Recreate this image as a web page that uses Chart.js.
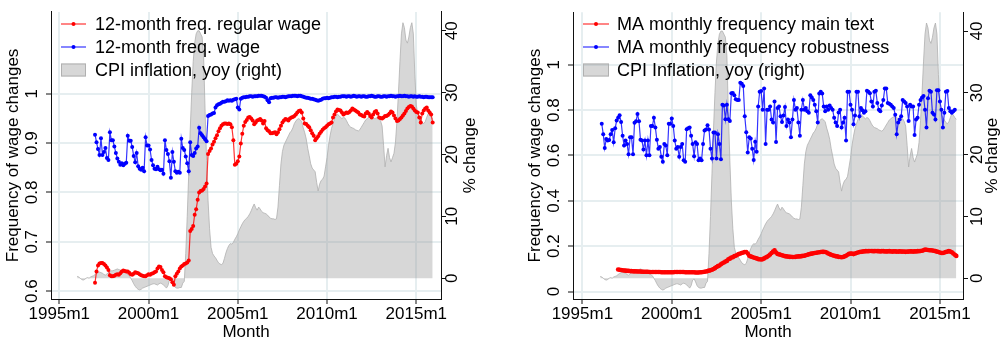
<!DOCTYPE html>
<html>
<head>
<meta charset="utf-8">
<script src="https://cdn.jsdelivr.net/npm/chart.js@4"></script>
<style>
  body { margin: 0; background: #fff; }
  canvas { position: absolute; top: 0; }
  #left-chart { left: 0; }
  #right-chart { left: 500px; }
</style>
</head>
<body>
<canvas id="left-chart" width="500" height="345"></canvas>
<canvas id="right-chart" width="502" height="345"></canvas>
<script>
// tick labels and legend texts
const xTickLabels = ['1995m1', '2000m1', '2005m1', '2010m1', '2015m1'];
const leftFreqTicks = [0.6, 0.7, 0.8, 0.9, 1];
const rightFreqTicks = [0, 0.2, 0.4, 0.6, 0.8, 1];
const cpiTicks = [0, 10, 20, 30, 40];
const leftLabels = ['12-month freq. regular wage', '12-month freq. wage', 'CPI inflation, yoy (right)'];
const rightLabels = ['MA monthly frequency main text', 'MA monthly frequency robustness', 'CPI Inflation, yoy (right)'];

// CPI inflation, yoy, % (monthly from 1996m1)
const cpiStart = '1996m1';
const cpiInflation = [
  0.3, 0.2, 0.0, -0.2, -0.3, -0.2, 0.0, 0.1, 0.0, 0.2, 0.3, 0.4,
  0.6, 0.8, 0.9, 1.0, 0.9, 0.8, 0.6, 0.5, 0.7, 0.9, 1.1, 1.2,
  1.2, 1.3, 1.4, 1.5, 1.4, 1.3, 1.2, 1.2, 1.0, 0.8, 0.6, 0.4,
  0.0, -0.4, -0.9, -1.3, -1.6, -1.8, -1.9, -1.8, -1.6, -1.5, -1.4, -1.3,
  -1.2, -1.1, -1.0, -0.9, -0.9, -1.0, -1.1, -0.9, -0.8, -0.9, -1.1, -1.3,
  -1.6, -1.2, -0.3, -0.1, -0.6, -1.2, -1.5, -1.6, -1.6, -1.5, -1.5, -0.8,
  -0.5, 4.0, 10.0, 17.0, 24.0, 30.0, 35.0, 38.0, 39.5, 40.0, 40.0, 39.5,
  39.0, 36.0, 27.0, 19.0, 12.5, 8.0, 5.0, 4.0, 3.6, 3.3, 2.9, 2.5,
  2.3, 2.2, 2.4, 3.2, 4.1, 4.8, 5.3, 5.6, 5.5, 5.8, 6.3, 6.7,
  7.2, 7.8, 8.3, 8.8, 9.2, 9.5, 9.7, 10.0, 10.4, 10.9, 11.5, 12.0,
  11.4, 11.0, 11.5, 11.2, 10.8, 10.6, 10.5, 10.4, 10.2, 9.9, 9.7, 9.6,
  9.6, 9.5, 9.6, 11.5, 15.0, 18.5, 20.5, 21.5, 22.0, 22.5, 23.0, 23.5,
  23.8, 24.3, 25.0, 25.4, 25.7, 25.8, 25.6, 25.3, 24.3, 23.5, 22.5, 21.0,
  19.8, 18.5, 17.8, 17.5, 17.2, 15.5, 14.1, 15.2, 15.8, 16.0, 16.5, 18.0,
  19.5, 21.5, 23.0, 24.2, 25.0, 25.7, 26.2, 26.5, 26.3, 26.0, 25.8, 26.0,
  25.9, 25.5, 25.0, 24.6, 24.4, 24.3, 24.2, 24.0, 23.9, 23.8, 24.0, 24.4,
  24.8, 25.2, 25.6, 25.8, 26.0, 26.1, 26.2, 26.0, 25.8, 25.9, 26.0, 25.8,
  25.4, 24.6, 21.5, 18.0, 19.8, 21.0, 19.5, 18.8, 19.5, 20.2, 22.0, 25.5,
  30.0, 35.0, 39.5, 41.3, 40.5, 38.5, 38.0, 39.0, 40.5, 41.3, 39.5, 33.0,
  28.0, 26.5, 26.0, 25.6, 25.2, 25.0, 25.3, 26.0, 26.6, 26.4, 26.0, 25.7
];

// 12-month frequency, regular wage (from 1997m1)
const regularWageStart = '1997m1';
const regularWage12m = [
  0.617, 0.640, 0.652, 0.656, 0.657, 0.657, 0.655, 0.652, 0.648, 0.643, 0.632, 0.630,
  0.630, 0.631, 0.633, 0.634, 0.633, 0.636, 0.640, 0.642, 0.641, 0.640, 0.640, 0.637,
  0.634, 0.633, 0.635, 0.638, 0.637, 0.636, 0.634, 0.632, 0.631, 0.630, 0.630, 0.632,
  0.634, 0.633, 0.635, 0.636, 0.638, 0.640, 0.646, 0.650, 0.649, 0.643, 0.638, 0.630,
  0.628, 0.627, 0.626, 0.624, 0.618, 0.613, 0.630, 0.635, 0.640, 0.646, 0.650, 0.652,
  0.655, 0.656, 0.658, 0.662, 0.722, 0.726, 0.732, 0.755, 0.766, 0.785, 0.800, 0.803,
  0.804, 0.807, 0.812, 0.818, 0.878, 0.884, 0.889, 0.897, 0.903, 0.910, 0.916, 0.924,
  0.930, 0.935, 0.938, 0.940, 0.940, 0.939, 0.940, 0.938, 0.932, 0.906, 0.856, 0.858,
  0.863, 0.873, 0.899, 0.919, 0.935, 0.943, 0.947, 0.952, 0.953, 0.950, 0.946, 0.938,
  0.942, 0.946, 0.947, 0.949, 0.946, 0.940, 0.945, 0.930, 0.926, 0.924, 0.920, 0.920,
  0.921, 0.922, 0.918, 0.922, 0.928, 0.935, 0.942, 0.946, 0.949, 0.948, 0.946, 0.950,
  0.952, 0.953, 0.955, 0.958, 0.962, 0.965, 0.966, 0.962, 0.950, 0.940, 0.939, 0.935,
  0.932, 0.926, 0.920, 0.915, 0.906, 0.910, 0.914, 0.919, 0.923, 0.927, 0.930, 0.932,
  0.935, 0.938, 0.940, 0.942, 0.952, 0.958, 0.964, 0.968, 0.967, 0.966, 0.962, 0.958,
  0.960, 0.962, 0.961, 0.963, 0.966, 0.970, 0.968, 0.966, 0.964, 0.962, 0.958, 0.957,
  0.955, 0.954, 0.960, 0.963, 0.960, 0.955, 0.952, 0.958, 0.963, 0.965, 0.960, 0.952,
  0.951, 0.950, 0.952, 0.955, 0.955, 0.957, 0.960, 0.964, 0.962, 0.956, 0.950, 0.945,
  0.946, 0.949, 0.952, 0.956, 0.960, 0.965, 0.970, 0.973, 0.975, 0.974, 0.970, 0.966,
  0.963, 0.962, 0.952, 0.942, 0.960, 0.966, 0.970, 0.972, 0.966, 0.962, 0.958, 0.942
];

// 12-month frequency, wage (from 1997m1)
const wageStart = '1997m1';
const wage12m = [
  0.917, 0.902, 0.888, 0.876, 0.910, 0.876, 0.882, 0.890, 0.870, 0.866, 0.922, 0.906,
  0.906, 0.893, 0.880, 0.869, 0.862, 0.856, 0.859, 0.855, 0.858, 0.860, 0.915, 0.905,
  0.905, 0.892, 0.874, 0.861, 0.880, 0.853, 0.848, 0.846, 0.850, 0.843, 0.912, 0.895,
  0.895, 0.887, 0.866, 0.855, 0.848, 0.847, 0.852, 0.847, 0.845, 0.846, 0.838, 0.906,
  0.886, 0.878, 0.863, 0.830, 0.882, 0.862, 0.843, 0.840, 0.842, 0.840, 0.909, 0.890,
  0.886, 0.873, 0.859, 0.843, 0.902, 0.876, 0.874, 0.880, 0.889, 0.893, 0.931, 0.920,
  0.916, 0.912, 0.908, 0.904, 0.955, 0.957, 0.958, 0.960, 0.961, 0.972, 0.977, 0.979,
  0.980, 0.982, 0.984, 0.984, 0.985, 0.987, 0.986, 0.987, 0.986, 0.988, 0.989, 0.990,
  0.972, 0.968, 0.990, 0.992, 0.993, 0.993, 0.994, 0.994, 0.995, 0.995, 0.994, 0.995,
  0.995, 0.995, 0.996, 0.996, 0.996, 0.995, 0.994, 0.992, 0.987, 0.983, 0.991, 0.992,
  0.992, 0.993, 0.993, 0.992, 0.993, 0.993, 0.994, 0.994, 0.993, 0.994, 0.995, 0.995,
  0.995, 0.996, 0.996, 0.996, 0.995, 0.996, 0.996, 0.995, 0.994, 0.993, 0.992, 0.992,
  0.991, 0.990, 0.990, 0.989, 0.988, 0.987, 0.986, 0.987, 0.988, 0.990, 0.991, 0.991,
  0.992, 0.991, 0.992, 0.993, 0.993, 0.994, 0.994, 0.993, 0.994, 0.994, 0.995, 0.995,
  0.995, 0.994, 0.995, 0.995, 0.994, 0.995, 0.996, 0.995, 0.994, 0.995, 0.995, 0.994,
  0.995, 0.995, 0.994, 0.994, 0.995, 0.995, 0.996, 0.995, 0.994, 0.994, 0.995, 0.995,
  0.994, 0.994, 0.995, 0.995, 0.994, 0.995, 0.995, 0.996, 0.995, 0.995, 0.994, 0.995,
  0.995, 0.996, 0.995, 0.995, 0.996, 0.995, 0.995, 0.994, 0.995, 0.995, 0.994, 0.995,
  0.994, 0.994, 0.995, 0.994, 0.994, 0.993, 0.994, 0.994, 0.993, 0.993, 0.993, 0.993
];

// MA monthly frequency, main text (from 1997m1)
const maMainStart = '1997m1';
const maMainText = [
  0.097, 0.096, 0.095, 0.094, 0.093, 0.092, 0.091, 0.091, 0.090, 0.090, 0.089, 0.089,
  0.089, 0.088, 0.088, 0.088, 0.087, 0.087, 0.087, 0.087, 0.087, 0.086, 0.086, 0.086,
  0.086, 0.086, 0.086, 0.086, 0.086, 0.085, 0.085, 0.085, 0.085, 0.085, 0.085, 0.085,
  0.085, 0.085, 0.086, 0.086, 0.086, 0.086, 0.086, 0.086, 0.086, 0.085, 0.085, 0.085,
  0.085, 0.085, 0.085, 0.085, 0.084, 0.084, 0.084, 0.085, 0.085, 0.086, 0.087, 0.088,
  0.090, 0.092, 0.094, 0.096, 0.099, 0.103, 0.108, 0.112, 0.115, 0.120, 0.125, 0.128,
  0.132, 0.135, 0.142, 0.145, 0.150, 0.151, 0.156, 0.158, 0.162, 0.165, 0.168, 0.170,
  0.172, 0.174, 0.174, 0.168, 0.158, 0.155, 0.152, 0.150, 0.148, 0.146, 0.143, 0.142,
  0.141, 0.142, 0.146, 0.150, 0.153, 0.158, 0.163, 0.170, 0.176, 0.182, 0.172, 0.166,
  0.164, 0.162, 0.160, 0.158, 0.156, 0.155, 0.154, 0.153, 0.153, 0.152, 0.152, 0.153,
  0.154, 0.155, 0.155, 0.156, 0.157, 0.158, 0.160, 0.162, 0.164, 0.166, 0.167, 0.169,
  0.170, 0.171, 0.172, 0.173, 0.174, 0.175, 0.175, 0.174, 0.172, 0.168, 0.165, 0.162,
  0.160, 0.158, 0.156, 0.155, 0.153, 0.152, 0.151, 0.152, 0.155, 0.158, 0.162, 0.166,
  0.168, 0.167, 0.165, 0.168, 0.170, 0.172, 0.174, 0.175, 0.176, 0.177, 0.178, 0.178,
  0.178, 0.179, 0.179, 0.178, 0.178, 0.179, 0.178, 0.178, 0.177, 0.178, 0.178, 0.177,
  0.177, 0.177, 0.178, 0.177, 0.176, 0.177, 0.177, 0.176, 0.176, 0.177, 0.176, 0.176,
  0.176, 0.175, 0.176, 0.176, 0.177, 0.177, 0.176, 0.177, 0.177, 0.178, 0.178, 0.179,
  0.180, 0.182, 0.185, 0.184, 0.183, 0.182, 0.182, 0.181, 0.180, 0.178, 0.176, 0.174,
  0.172, 0.170, 0.170, 0.172, 0.174, 0.176, 0.178, 0.176, 0.173, 0.168, 0.162, 0.157
];

// MA monthly frequency, robustness (from 1996m2)
const maRobustStart = '1996m2';
const maRobustness = [
  0.740, 0.694, 0.633, 0.673, 0.666, 0.668, 0.694, 0.712, 0.658, 0.720, 0.754,
  0.766, 0.777, 0.748, 0.687, 0.644, 0.666, 0.651, 0.605, 0.680, 0.680, 0.605, 0.744,
  0.751, 0.783, 0.751, 0.669, 0.666, 0.626, 0.666, 0.601, 0.666, 0.601, 0.730, 0.730,
  0.766, 0.723, 0.669, 0.630, 0.637, 0.594, 0.572, 0.651, 0.644, 0.601, 0.740, 0.740,
  0.763, 0.730, 0.666, 0.630, 0.637, 0.594, 0.637, 0.651, 0.579, 0.572, 0.716, 0.720,
  0.723, 0.687, 0.651, 0.597, 0.658, 0.651, 0.579, 0.587, 0.579, 0.651, 0.710, 0.715,
  0.733, 0.715, 0.630, 0.587, 0.701, 0.701, 0.587, 0.694, 0.651, 0.583, 0.824, 0.820,
  0.760, 0.824, 0.760, 0.752, 0.874, 0.876, 0.866, 0.848, 0.845, 0.845, 0.921, 0.916,
  0.906, 0.773, 0.702, 0.613, 0.680, 0.675, 0.630, 0.580, 0.661, 0.616, 0.816, 0.881,
  0.884, 0.802, 0.895, 0.651, 0.802, 0.802, 0.816, 0.759, 0.745, 0.838, 0.659, 0.809,
  0.816, 0.773, 0.748, 0.776, 0.814, 0.730, 0.759, 0.745, 0.680, 0.759, 0.845, 0.802,
  0.809, 0.745, 0.687, 0.802, 0.845, 0.802, 0.809, 0.795, 0.788, 0.866, 0.856, 0.845,
  0.824, 0.795, 0.745, 0.873, 0.881, 0.873, 0.816, 0.795, 0.816, 0.802, 0.820, 0.809,
  0.802, 0.766, 0.745, 0.730, 0.790, 0.802, 0.723, 0.745, 0.766, 0.666, 0.881, 0.881,
  0.824, 0.802, 0.738, 0.776, 0.881, 0.881, 0.773, 0.809, 0.800, 0.788, 0.795, 0.885,
  0.881, 0.874, 0.838, 0.816, 0.881, 0.885, 0.831, 0.802, 0.795, 0.820, 0.845, 0.895,
  0.895, 0.831, 0.828, 0.824, 0.816, 0.809, 0.780, 0.694, 0.745, 0.759, 0.773, 0.845,
  0.838, 0.831, 0.816, 0.752, 0.824, 0.816, 0.816, 0.690, 0.759, 0.766, 0.824, 0.845,
  0.856, 0.862, 0.802, 0.723, 0.852, 0.885, 0.881, 0.788, 0.781, 0.759, 0.888, 0.888,
  0.838, 0.802, 0.723, 0.788, 0.881, 0.884, 0.809, 0.795, 0.788, 0.795, 0.802
];

const FONT = "'Liberation Sans', Arial, sans-serif";
const GRID = '#e6eef0';
const AXIS = '#111';

Chart.defaults.font.family = FONT;
Chart.defaults.font.size = 17;
Chart.defaults.color = '#000';

// "1997m1" -> months since 1995m1
function monthIndex(label) {
  const [y, m] = label.split('m').map(Number);
  return (y - 1995) * 12 + (m - 1);
}

function toPoints(start, values) {
  const s = monthIndex(start);
  return values.map((v, i) => ({ x: s + i, y: v }));
}

function fixedTicks(values) {
  return scale => { scale.ticks = values.map(v => ({ value: v })); };
}

// legend drawn inside the plot, Stata style
const insideLegend = {
  id: 'insideLegend',
  afterDatasetsDraw(chart, args, opts) {
    const ctx = chart.ctx;
    ctx.save();
    ctx.font = '18px ' + FONT;
    ctx.textBaseline = 'middle';
    chart.data.datasets.forEach((ds, i) => {
      const y = opts.rows[i];
      if (ds.fill) {
        ctx.fillStyle = ds.backgroundColor;
        ctx.fillRect(opts.x0, y - 6.5, opts.x1 - opts.x0, 13);
        ctx.strokeStyle = ds.borderColor;
        ctx.lineWidth = 1;
        ctx.strokeRect(opts.x0 + 0.5, y - 6, opts.x1 - opts.x0 - 1, 12);
      } else {
        ctx.strokeStyle = ds.borderColor;
        ctx.lineWidth = 1.2;
        ctx.beginPath();
        ctx.moveTo(opts.x0, y);
        ctx.lineTo(opts.x1, y);
        ctx.stroke();
        ctx.fillStyle = ds.pointBackgroundColor;
        ctx.beginPath();
        ctx.arc((opts.x0 + opts.x1) / 2, y, 2, 0, Math.PI * 2);
        ctx.fill();
      }
      ctx.fillStyle = '#000';
      ctx.fillText(ds.label, opts.textX, y + 1);
    });
    ctx.restore();
  }
};

// right axis title, reading bottom to top like the left one
const rightTitle = {
  id: 'rightTitle',
  afterDraw(chart, args, opts) {
    const ctx = chart.ctx;
    const area = chart.chartArea;
    ctx.save();
    ctx.font = '17px ' + FONT;
    ctx.fillStyle = '#000';
    ctx.textAlign = 'center';
    ctx.textBaseline = 'middle';
    ctx.translate(opts.x, (area.top + area.bottom) / 2);
    ctx.rotate(-Math.PI / 2);
    ctx.fillText(opts.text, 0, 0);
    ctx.restore();
  }
};

function buildChart(id, p) {
  return new Chart(document.getElementById(id), {
    type: 'line',
    data: {
      datasets: [
        {
          label: p.labels[0],
          data: p.red,
          yAxisID: 'y',
          borderColor: 'rgba(255,0,0,0.8)',
          pointBackgroundColor: '#ff0000',
          borderWidth: p.redWidth,
          pointRadius: p.redRadius,
          pointBorderWidth: 0,
          fill: false,
          tension: 0
        },
        {
          label: p.labels[1],
          data: p.blue,
          yAxisID: 'y',
          borderColor: 'rgba(0,0,255,0.8)',
          pointBackgroundColor: '#0000ff',
          borderWidth: 1.2,
          pointRadius: 2,
          pointBorderWidth: 0,
          fill: false,
          tension: 0
        },
        {
          label: p.labels[2],
          data: toPoints(cpiStart, cpiInflation),
          yAxisID: 'y2',
          borderColor: '#b0b0b0',
          backgroundColor: 'rgba(150,150,150,0.38)',
          borderWidth: 0.8,
          pointRadius: 0,
          fill: 'origin',
          tension: 0
        }
      ]
    },
    options: {
      responsive: false,
      animation: false,
      devicePixelRatio: 1,
      layout: { padding: { top: 5, left: 0, right: 0, bottom: 0 } },
      plugins: {
        legend: { display: false },
        tooltip: { enabled: false },
        insideLegend: p.legend,
        rightTitle: { text: '% change', x: p.rightTitleX }
      },
      scales: {
        x: {
          type: 'linear',
          min: p.xMin,
          max: p.xMax,
          afterBuildTicks: fixedTicks(xTickLabels.map(monthIndex)),
          afterFit: s => { s.height = 46; },
          ticks: {
            autoSkip: false,
            maxRotation: 0,
            padding: 0,
            callback: (v, i) => xTickLabels[i]
          },
          grid: { color: GRID, lineWidth: 2, tickLength: 5, tickColor: AXIS, tickWidth: 1 },
          border: { color: AXIS, width: 1 },
          title: { display: true, text: 'Month', padding: { top: 0, bottom: 2.5 } }
        },
        y: {
          position: 'left',
          min: p.yMin,
          max: p.yMax,
          afterBuildTicks: fixedTicks(p.yTicks),
          afterFit: s => { s.width = p.yWidth; },
          ticks: {
            autoSkip: false,
            minRotation: 90,
            maxRotation: 90,
            crossAlign: 'center',
            padding: p.yPad,
            callback: v => String(+v.toFixed(1))
          },
          grid: { color: GRID, lineWidth: 2, tickLength: 5, tickColor: AXIS, tickWidth: 1 },
          border: { color: AXIS, width: 1 },
          title: { display: true, text: 'Frequency of wage changes', padding: { top: p.yTitlePad, bottom: 0 } }
        },
        y2: {
          position: 'right',
          min: -3.36,
          max: 43.05,
          afterBuildTicks: fixedTicks(cpiTicks),
          afterFit: s => { s.width = p.y2Width; },
          ticks: {
            autoSkip: false,
            minRotation: 90,
            maxRotation: 90,
            crossAlign: 'center',
            padding: p.y2Pad,
            callback: v => String(v)
          },
          grid: { drawOnChartArea: false, tickLength: 5, tickColor: AXIS, tickWidth: 1 },
          border: { color: AXIS, width: 1 }
        }
      }
    },
    plugins: [insideLegend, rightTitle]
  });
}

buildChart('left-chart', {
  labels: leftLabels,
  red: toPoints(regularWageStart, regularWage12m),
  blue: toPoints(wageStart, wage12m),
  redWidth: 1.2,
  redRadius: 2,
  xMin: -5.6,
  xMax: 256.6,
  yMin: 0.584,
  yMax: 1.166,
  yTicks: leftFreqTicks,
  yWidth: 51,
  yPad: 1.7,
  yTitlePad: 3.3,
  y2Width: 59,
  y2Pad: -3,
  rightTitleX: 470,
  legend: { x0: 61, x1: 86, textX: 95, rows: [24, 47, 70] }
});

buildChart('right-chart', {
  labels: rightLabels,
  red: toPoints(maMainStart, maMainText),
  blue: toPoints(maRobustStart, maRobustness),
  redWidth: 2.5,
  redRadius: 2.3,
  xMin: -6.3,
  xMax: 255.5,
  yMin: -0.033,
  yMax: 1.232,
  yTicks: rightFreqTicks,
  yWidth: 73,
  yPad: 2,
  yTitlePad: 25.5,
  y2Width: 39,
  y2Pad: -0.5,
  rightTitleX: 492.5,
  legend: { x0: 83, x1: 109, textX: 117, rows: [24, 47, 70] }
});
</script>
</body>
</html>
